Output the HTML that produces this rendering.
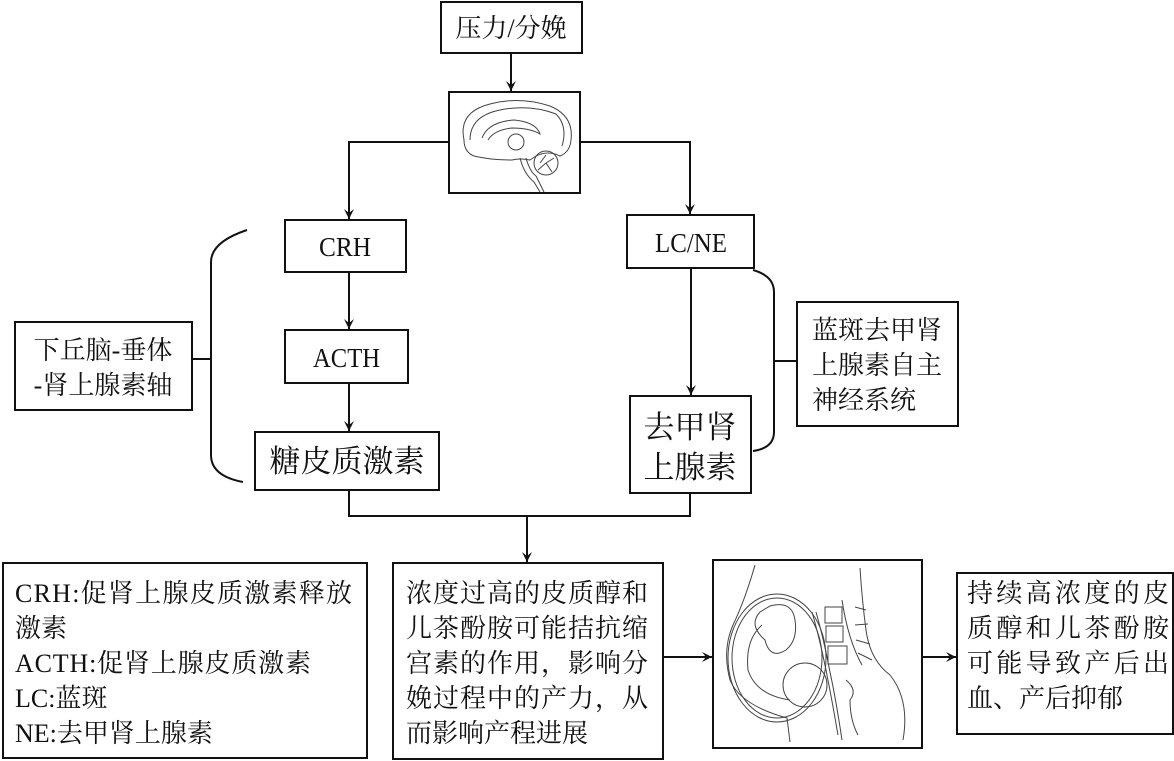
<!DOCTYPE html>
<html><head><meta charset="utf-8"><style>
html,body{margin:0;padding:0;background:#fff;}
svg{display:block;}
text{font-family:"Liberation Serif","Noto Serif CJK SC",serif;fill:#111;}
</style></head><body>
<svg width="1174" height="761" viewBox="0 0 1174 761" xmlns="http://www.w3.org/2000/svg">
<defs>
<marker id="a" markerWidth="12" markerHeight="12" refX="10" refY="5" orient="auto" markerUnits="userSpaceOnUse">
<path d="M0,0 L10,5 L0,10 L4,5 Z" fill="#111"/>
</marker>
</defs>
<g fill="none" stroke="#111" stroke-width="2">
<rect x="441" y="2" width="141" height="51"/>
<rect x="449" y="92" width="131" height="101"/>
<rect x="285" y="220" width="121" height="52"/>
<rect x="627" y="215" width="127" height="53"/>
<rect x="285" y="330" width="123" height="53"/>
<rect x="255" y="432" width="184" height="58"/>
<rect x="630" y="396" width="121" height="97"/>
<rect x="15" y="322" width="177" height="88"/>
<rect x="797" y="302" width="161" height="124"/>
<rect x="3" y="563" width="364" height="195"/>
<rect x="393" y="563" width="270" height="196"/>
<rect x="713" y="560" width="209" height="188"/>
<rect x="957" y="573" width="216" height="161"/>
<line x1="511" y1="53" x2="511" y2="91" marker-end="url(#a)"/>
<polyline points="449,142 349,142 349,219" marker-end="url(#a)"/>
<polyline points="580,142 690,142 690,214" marker-end="url(#a)"/>
<line x1="349" y1="272" x2="349" y2="329" marker-end="url(#a)"/>
<line x1="349" y1="383" x2="349" y2="431" marker-end="url(#a)"/>
<line x1="691" y1="268" x2="691" y2="395" marker-end="url(#a)"/>
<polyline points="349,490 349,516 690,516 690,493"/>
<line x1="527" y1="516" x2="527" y2="562" marker-end="url(#a)"/>
<line x1="663" y1="657" x2="712" y2="657" marker-end="url(#a)"/>
<line x1="922" y1="657" x2="956" y2="657" marker-end="url(#a)"/>
<path d="M247,230 Q211,242 211,262 L211,455 Q211,476 243,482"/>
<line x1="192" y1="359" x2="211" y2="359"/>
<path d="M753,270 Q774,276 774,292 L774,432 Q774,448 753,451"/>
<line x1="774" y1="361" x2="797" y2="361"/>
</g>
<g fill="none" stroke="#444" stroke-width="1">
<path d="M464,140 Q458,112 490,104 Q520,96 550,106 Q574,116 571,140 Q570,152 560,156 Q548,150 536,156 L530,160 Q520,158 512,160 Q490,160 474,156 Q464,152 464,140 Z"/>
<path d="M470,140 Q470,116 500,110 Q530,104 556,114 Q568,126 562,146"/>
<path d="M482,138 Q488,122 514,120 Q536,122 540,134 Q530,128 512,128 Q494,130 488,140"/>
<circle cx="516" cy="142" r="8"/>
<circle cx="546" cy="163" r="12"/>
<path d="M540,163 L546,155 M546,163 L554,158 M546,163 L552,172 M546,163 L538,170"/>
<path d="M526,158 Q530,172 536,176 L544,192 M520,158 Q524,174 534,182 L540,192"/>
</g>
<g fill="none" stroke="#444" stroke-width="1">
<path d="M755,565 Q745,600 733,625 Q722,650 730,680 Q740,705 787,718 L790,742"/>
<ellipse cx="777" cy="658" rx="49" ry="64"/>
<ellipse cx="777" cy="658" rx="45" ry="60"/>
<path d="M812,612 Q820,640 826,670 Q832,700 838,735 M816,612 Q824,640 830,672 Q836,700 842,740"/>
<path d="M770,606 Q792,600 795,620 Q798,640 786,650 Q770,660 765,640 Q748,625 760,612 Z"/>
<circle cx="805" cy="685" r="22"/>
<path d="M762,625 Q745,640 748,670 Q756,695 790,700"/>
<rect x="825" y="607" width="17" height="16"/><rect x="826" y="626" width="17" height="16"/><rect x="828" y="646" width="19" height="18"/>
<path d="M860,568 Q862,600 866,630 Q870,660 890,675 Q910,700 903,740"/>
<path d="M842,600 Q848,640 862,665"/>
<path d="M855,607 L866,610 M855,625 L868,624 M856,640 L870,644 M858,653 L872,660"/>
<path d="M846,680 Q858,690 850,700 Q850,720 858,735"/>
</g>
<g font-size="26">
<text x="511" y="37" text-anchor="middle">压力/分娩</text>
<text x="319" y="256" font-size="27" textLength="52" lengthAdjust="spacingAndGlyphs">CRH</text>
<text x="655" y="252" font-size="27" textLength="72" lengthAdjust="spacingAndGlyphs">LC/NE</text>
<text x="313" y="367" font-size="27" textLength="67" lengthAdjust="spacingAndGlyphs">ACTH</text>
<text x="347" y="472" text-anchor="middle" font-size="31">糖皮质激素</text>
<text x="690" y="438" text-anchor="middle" font-size="31">去甲肾</text>
<text x="690" y="478" text-anchor="middle" font-size="31">上腺素</text>
<text x="103" y="359" text-anchor="middle">下丘脑-垂体</text>
<text x="103" y="394" text-anchor="middle">-肾上腺素轴</text>
<text x="812" y="339">蓝斑去甲肾</text>
<text x="812" y="374">上腺素自主</text>
<text x="812" y="409">神经系统</text>
<text x="15" y="602" textLength="337">CRH:促肾上腺皮质激素释放</text>
<text x="15" y="637">激素</text>
<text x="15" y="672" textLength="296">ACTH:促肾上腺皮质激素</text>
<text x="15" y="707">LC:蓝斑</text>
<text x="15" y="742">NE:去甲肾上腺素</text>
<text x="406" y="602" textLength="242">浓度过高的皮质醇和</text>
<text x="406" y="637" textLength="242">儿茶酚胺可能拮抗缩</text>
<text x="406" y="672" textLength="242">宫素的作用，影响分</text>
<text x="406" y="707" textLength="242">娩过程中的产力，从</text>
<text x="406" y="742">而影响产程进展</text>
<text x="967" y="602" textLength="202">持续高浓度的皮</text>
<text x="967" y="637" textLength="202">质醇和儿茶酚胺</text>
<text x="967" y="672" textLength="202">可能导致产后出</text>
<text x="967" y="707">血、产后抑郁</text>
</g>
</svg>
</body></html>
